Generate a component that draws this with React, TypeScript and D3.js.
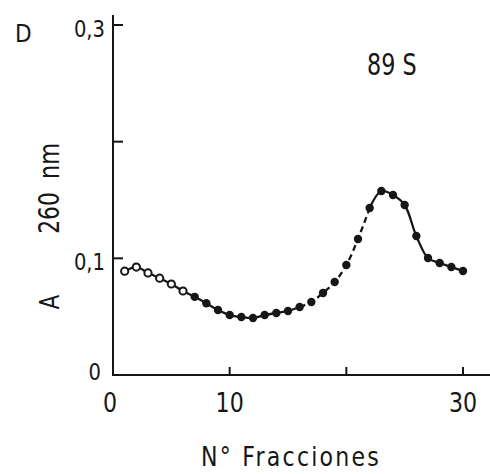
import React from "react";
import * as d3 from "d3";

// Absorbance at 260 nm of each collected fraction
const fractions = [1, 2, 3, 4, 5, 6, 7, 8, 9, 10, 11, 12, 13, 14, 15, 16, 17, 18, 19, 20, 21, 22, 23, 24, 25, 26, 27, 28, 29, 30];
const absorbance = [
  0.089, 0.0925, 0.0875, 0.083, 0.078, 0.072, 0.067, 0.0615, 0.0557, 0.0514,
  0.0497, 0.0489, 0.0514, 0.0531, 0.0549, 0.0583, 0.0626, 0.0703, 0.0797, 0.0943,
  0.1166, 0.1431, 0.1577, 0.1543, 0.1457, 0.1191, 0.1003, 0.096, 0.0926, 0.0891,
];
// Fractions drawn as open circles
const openCount = 6;

const xTicks = [10, 20, 30];
const xTickLabels = [
  { v: 0, t: "0" },
  { v: 10, t: "10" },
  { v: 30, t: "30" },
];
const yTicks = [0.1, 0.2, 0.3];
const yTickLabels = [
  { v: 0, t: "0" },
  { v: 0.1, t: "0,1" },
  { v: 0.3, t: "0,3" },
];

const W = 490;
const H = 474;
const ink = "#161616";
const font = "DejaVu Sans, sans-serif";

// Condensed lettering: text drawn at a given size and squeezed horizontally
function Label({
  x,
  y,
  size,
  sx = 0.8,
  anchor = "start",
  rotate = 0,
  spacing = 0,
  children,
}: {
  x: number;
  y: number;
  size: number;
  sx?: number;
  anchor?: string;
  rotate?: number;
  spacing?: number;
  children: React.ReactNode;
}) {
  return (
    <text
      transform={`translate(${x},${y}) rotate(${rotate}) scale(${sx},1)`}
      textAnchor={anchor}
      fontSize={size}
      fill={ink}
      letterSpacing={spacing}
      style={{ whiteSpace: "pre" }}
    >
      {children}
    </text>
  );
}

export default function App() {
  const x = d3.scaleLinear().domain([0, 30]).range([113, 463]);
  const y = d3.scaleLinear().domain([0, 0.3]).range([375, 25]);

  const pts: [number, number][] = fractions.map((f, i) => [x(f), y(absorbance[i])]);
  const line = d3
    .line<[number, number]>()
    .x((d) => d[0])
    .y((d) => d[1])
    .curve(d3.curveCatmullRom.alpha(0.5));

  // solid stretches and the broken stretch on the rising flank
  const solidA = pts.slice(0, 16);
  const dashed = pts.slice(15, 22);
  const solidB = pts.slice(21);

  return (
    <svg
      width={W}
      height={H}
      style={{ position: "absolute", left: 0, top: 0, background: "#fff" }}
      fontFamily={font}
    >
      {/* axes */}
      <line x1={x(0)} y1={15} x2={x(0)} y2={y(0)} stroke={ink} strokeWidth={2} />
      <line x1={x(0) - 1} y1={y(0)} x2={490} y2={y(0)} stroke={ink} strokeWidth={2} />
      {yTicks.map((t) => (
        <line key={t} x1={x(0)} x2={x(0) + 10} y1={y(t)} y2={y(t)} stroke={ink} strokeWidth={2} />
      ))}
      {xTicks.map((t) => (
        <line key={t} x1={x(t)} x2={x(t)} y1={y(0)} y2={y(0) - 8} stroke={ink} strokeWidth={2} />
      ))}

      {yTickLabels.map((d) =>
        d.v === 0 ? (
          <Label key={d.t} x={101} y={y(0) + 5} size={23} sx={0.85} anchor="end">
            {d.t}
          </Label>
        ) : (
          <Label key={d.t} x={105} y={y(d.v) + 12} size={23} sx={0.85} anchor="end">
            {d.t}
          </Label>
        )
      )}
      {xTickLabels.map((d) => (
        <Label key={d.t} x={d.v === 0 ? x(0) - 3 : x(d.v)} y={412} size={27} sx={0.82} anchor="middle">
          {d.t}
        </Label>
      ))}

      {/* curve */}
      <path d={line(solidA) || ""} fill="none" stroke={ink} strokeWidth={2.3} />
      <path d={line(dashed) || ""} fill="none" stroke={ink} strokeWidth={2.3} strokeDasharray="6 4" />
      <path d={line(solidB) || ""} fill="none" stroke={ink} strokeWidth={2.3} />

      {pts.map((p, i) =>
        i < openCount ? (
          <circle key={i} cx={p[0]} cy={p[1]} r={3.6} fill="#fff" stroke={ink} strokeWidth={2} />
        ) : (
          <circle key={i} cx={p[0]} cy={p[1]} r={4.2} fill={ink} />
        )
      )}

      {/* annotations */}
      <Label x={15} y={42} size={24} sx={0.9}>
        D
      </Label>
      <Label x={367} y={75} size={31} sx={0.72}>
        89 S
      </Label>
      <Label x={59} y={302} size={27} sx={0.8} rotate={-90} anchor="middle">
        A
      </Label>
      <Label x={59} y={213} size={28} sx={0.78} rotate={-90} anchor="middle">
        260
      </Label>
      <Label x={59} y={161} size={28} sx={0.8} rotate={-90} anchor="middle">
        nm
      </Label>
      <Label x={291} y={466} size={26} sx={0.85} anchor="middle" spacing={2.6}>
        N° Fracciones
      </Label>
    </svg>
  );
}
